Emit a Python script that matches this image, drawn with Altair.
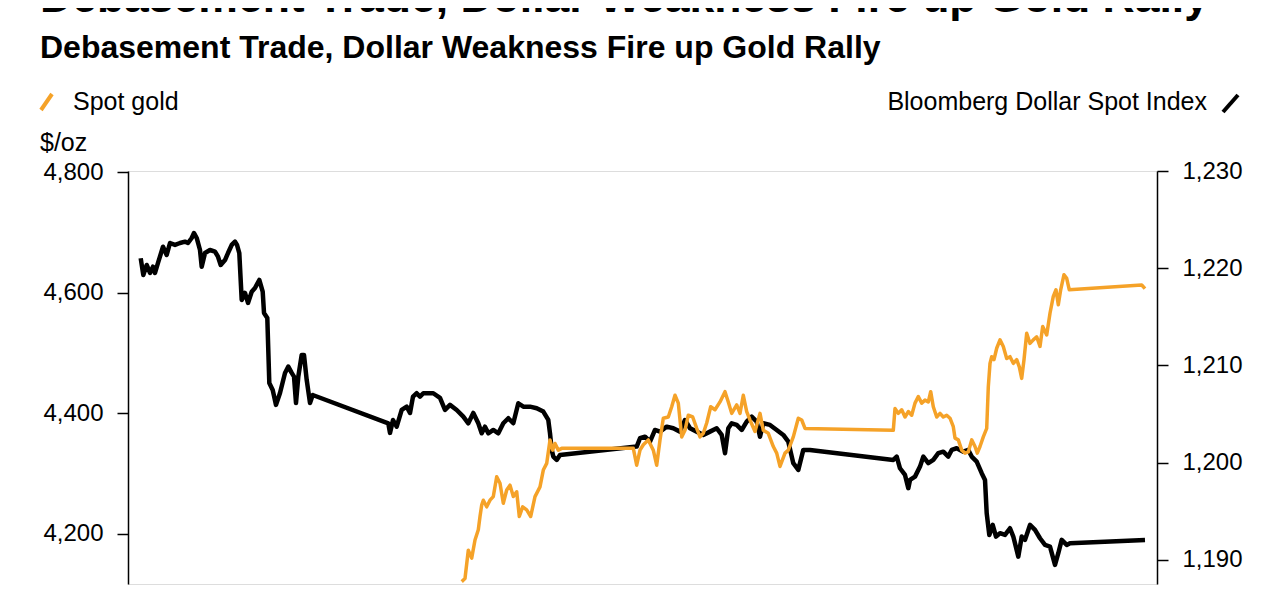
import altair as alt
import pandas as pd

# ---- Bloomberg Dollar Spot Index (right axis) ----
usd_t = [12.7, 15.3, 18.7, 22, 25, 27, 30, 35, 38.7, 42, 47, 52, 57, 60, 63.7, 66, 68.7, 72, 73.7, 77,
         82, 87, 90, 92.7, 97, 100, 103.7, 107, 109, 111.3, 113.7, 117, 120, 123.7, 127, 131.3, 134.7, 136,
         139.3, 141.3, 144.7, 148, 152, 157, 160.3, 163.7, 166, 168, 170.3, 173.7, 176, 178.7, 182, 184.7,
         260.3, 262, 265, 268.7, 273.7, 278.7, 282, 285, 288.7, 292, 295.3, 305.3, 312, 317, 322, 328.7,
         335.3, 340.3, 345.3, 350.3, 353.7, 357, 360.3, 365.3, 370.3, 375.3, 380.3, 385.3, 390.3, 395.3,
         402, 408.7, 415.3, 420.3, 422, 423.7, 425.3, 428.7, 432, 508.7, 512, 517, 522, 527, 532, 538.7,
         545.3, 552, 557, 562, 568.7, 575.3, 582, 588.7, 593.7, 597, 600.3, 603.7, 608.7, 613.7, 618.7,
         623.7, 628.7, 632, 635.3, 642, 648.7, 655.3, 660.3, 665.3, 670.3, 675.3, 682, 765.3, 768.7, 772,
         777, 780.3, 782, 787, 792, 795.3, 800.3, 805.3, 810.3, 815.3, 820.3, 823.7, 828.7, 835.3, 840.3,
         843.7, 848.7, 853.7, 857, 858.7, 861.3, 864.7, 868, 872, 877, 882, 885.3, 890.3, 893.7, 897, 902,
         907, 912, 917, 922, 927, 930.3, 933.7, 938.7, 942, 1017]
usd_v = [1221.02, 1219.30, 1220.33, 1219.51, 1220.15, 1219.51, 1220.54, 1222.21, 1221.36, 1222.59,
         1222.39, 1222.59, 1222.73, 1222.59, 1223.11, 1223.62, 1223.11, 1221.87, 1220.15, 1221.56,
         1221.87, 1221.70, 1221.18, 1220.33, 1220.84, 1221.56, 1222.39, 1222.73, 1222.39, 1221.56,
         1216.73, 1217.45, 1216.42, 1217.58, 1217.96, 1218.79, 1217.58, 1215.39, 1214.88, 1208.19,
         1207.47, 1205.93, 1207.16, 1209.22, 1209.87, 1209.22, 1208.84, 1206.13, 1208.84, 1211.07,
         1211.07, 1208.50, 1206.13, 1206.95,
         1204.04, 1203.05, 1204.38, 1203.69, 1205.41, 1205.75, 1205.10, 1206.78, 1207.13, 1206.78,
         1207.13, 1207.13, 1206.65, 1205.41, 1205.93, 1205.41, 1204.72, 1204.04, 1205.10, 1204.04,
         1203.01, 1203.69, 1203.01, 1203.35, 1203.01, 1204.04, 1204.56, 1204.04, 1206.10, 1205.75,
         1205.75, 1205.59, 1205.24, 1204.38, 1203.01, 1201.30, 1200.61, 1200.27, 1200.78, 1201.64,
         1202.50, 1202.66, 1202.15, 1203.35, 1203.18, 1203.69, 1203.53, 1203.18, 1204.38, 1203.53,
         1203.18, 1202.84, 1203.18, 1203.53, 1202.84, 1200.96, 1203.53, 1204.04, 1203.87, 1203.35,
         1204.21, 1204.72, 1204.21, 1202.66, 1204.04, 1203.87, 1203.35, 1202.84, 1202.15, 1199.93,
         1199.24, 1201.30, 1201.30, 1200.27, 1200.61, 1199.41, 1198.72, 1197.36, 1198.21, 1198.55,
         1199.58, 1200.61, 1199.93, 1200.27, 1200.96, 1201.12, 1200.61, 1201.30, 1201.47, 1201.12,
         1201.30, 1200.61, 1200.09, 1198.90, 1198.21, 1194.78, 1192.55, 1193.58, 1192.38, 1192.73,
         1192.55, 1193.24, 1192.38, 1190.32, 1192.38, 1192.04, 1193.58, 1193.07, 1192.21, 1191.52,
         1191.35, 1189.47, 1190.67, 1192.04, 1191.52, 1191.70, 1192.04]

# ---- Spot gold, $/oz (left axis) ----
gold_t = [333.7, 337, 340.3, 343.7, 347, 350.3, 352, 353.7, 355.3, 358.7, 362, 365.3, 368.7, 372, 375.3,
          378.7, 382, 385.3, 388.7, 391.3, 394.7, 398.7, 402.7, 407, 412, 415.3, 418.7, 422, 424.7, 427,
          430.3, 433.7, 505.3, 508.7, 512, 515.3, 520.3, 525.3, 528.7, 532, 535.3, 540.3, 543.7, 547,
          550.3, 553.7, 557, 560.3, 564.7, 568.7, 572, 575.3, 578.7, 582.7, 587, 592, 597, 600.3, 603.7,
          608.7, 612, 615.3, 618.7, 622, 627, 632, 635.3, 640.3, 645.3, 648.7, 652, 657, 660.3, 665.3,
          670.3, 673.7, 677, 765.3, 767, 770.3, 773.7, 777, 780.3, 783.7, 787, 790.3, 793.7, 797, 800.3,
          802.7, 805.3, 808.7, 812, 815.3, 818.7, 822, 825.3, 827, 830.3, 833.7, 837, 840.3, 843.7, 847,
          849.3, 852, 855.3, 858.7, 860.3, 862, 863.7, 866, 868.7, 872, 875.3, 878.7, 882, 885.3, 888.7,
          891.3, 893.7, 896, 898.7, 902, 905.3, 908.7, 912, 914.7, 918.7, 922, 925.3, 928, 930.3, 932.7,
          936, 938.7, 941.3, 1013.7, 1017]
gold_v = [4121, 4126, 4173, 4160, 4190, 4207, 4229, 4248, 4256, 4245, 4256, 4262, 4295, 4284, 4251,
          4273, 4281, 4262, 4270, 4229, 4245, 4240, 4229, 4262, 4278, 4306, 4317, 4356, 4339, 4350,
          4339, 4342, 4342, 4314, 4339, 4348, 4356, 4339, 4314, 4356, 4392, 4394, 4411, 4430,
          4417, 4361, 4372, 4397, 4394, 4375, 4361, 4367, 4384, 4411, 4406, 4419, 4436, 4419, 4400,
          4414, 4400, 4430, 4403, 4389, 4370, 4400, 4372, 4367, 4345, 4334, 4312, 4334, 4339, 4361,
          4392, 4389, 4375, 4372, 4408, 4400, 4406, 4394, 4403, 4397, 4417, 4428, 4417, 4422, 4419,
          4436, 4411, 4394, 4400, 4394, 4397, 4392, 4378, 4359, 4356, 4339, 4334, 4336, 4356, 4345,
          4334, 4345, 4361, 4375, 4444, 4483, 4494, 4489, 4508, 4522, 4511, 4491, 4494, 4483, 4489,
          4477, 4458, 4489, 4533, 4516, 4522, 4527, 4511, 4544, 4530, 4566, 4594, 4605, 4580, 4605,
          4630, 4624, 4605, 4613, 4607]

gold_ticks = [4200, 4400, 4600, 4800]
usd_ticks = [1190, 1200, 1210, 1220, 1230]

headline = ["Debasement Trade, Dollar Weakness Fire up Gold Rally"]
subhead = ["Debasement Trade, Dollar Weakness Fire up Gold Rally"]
legend_gold = ["Spot gold"]
legend_usd = ["Bloomberg Dollar Spot Index"]
unit_label = ["$/oz"]

GOLD = "#F5A228"
FONT = "Liberation Sans"

usd_df = pd.DataFrame({"t": usd_t, "v": usd_v})
gold_df = pd.DataFrame({"t": gold_t, "v": gold_v})

xenc = alt.X("t:Q", scale=alt.Scale(domain=[0, 1029], nice=False, zero=False), axis=None)

axis_common = dict(format=",.0f", grid=False, domainColor="black", domainWidth=1.5,
                   tickColor="black", tickWidth=1.5, tickSize=11, labelFontSize=24,
                   labelColor="black", labelFont=FONT, labelPadding=14, title=None)

usd_line = alt.Chart(usd_df).mark_line(color="black", strokeWidth=4.5, strokeJoin="round").encode(
    x=xenc,
    y=alt.Y("v:Q", scale=alt.Scale(domain=[1187.5, 1230], nice=False, zero=False),
            axis=alt.Axis(orient="right", values=usd_ticks, **axis_common)),
)

gold_line = alt.Chart(gold_df).mark_line(color=GOLD, strokeWidth=3.5, strokeJoin="round").encode(
    x=xenc,
    y=alt.Y("v:Q", scale=alt.Scale(domain=[4117, 4802], nice=False, zero=False),
            axis=alt.Axis(orient="left", values=gold_ticks, **axis_common)),
)


def label(txt, x, y, size, weight="normal", align="left"):
    return alt.Chart(pd.DataFrame({"s": txt})).mark_text(
        font=FONT, fontSize=size, fontWeight=weight, align=align, baseline="alphabetic",
        color="black"
    ).encode(x=alt.value(x), y=alt.value(y), text="s:N")


top_cut = label(headline, -88, -159, 44.5, "bold")
title = label(subhead, -88, -113, 32, "bold")
lg_gold = label(legend_gold, -55, -61, 25)
lg_usd = label(legend_usd, 1079, -61, 25, align="right")
unit = label(unit_label, -88, -20, 25)

slash_gold = alt.Chart(pd.DataFrame({"k": [0]})).mark_rule(color=GOLD, strokeWidth=4).encode(
    x=alt.value(-87), y=alt.value(-61), x2=alt.value(-76), y2=alt.value(-77))
slash_usd = alt.Chart(pd.DataFrame({"k": [0]})).mark_rule(color="black", strokeWidth=4).encode(
    x=alt.value(1095), y=alt.value(-59), x2=alt.value(1110), y2=alt.value(-76))

chart = alt.layer(
    usd_line, gold_line, top_cut, title, lg_gold, lg_usd, unit, slash_gold, slash_usd
).resolve_scale(y="independent").properties(
    width=1029, height=413,
    autosize=alt.AutoSizeParams(type="none"),
    padding={"left": 120, "top": 163, "right": 115, "bottom": 5},
).configure_view(strokeWidth=0).configure(background="white")

chart.save("out.html", embed_options={"renderer": "svg", "actions": False})
